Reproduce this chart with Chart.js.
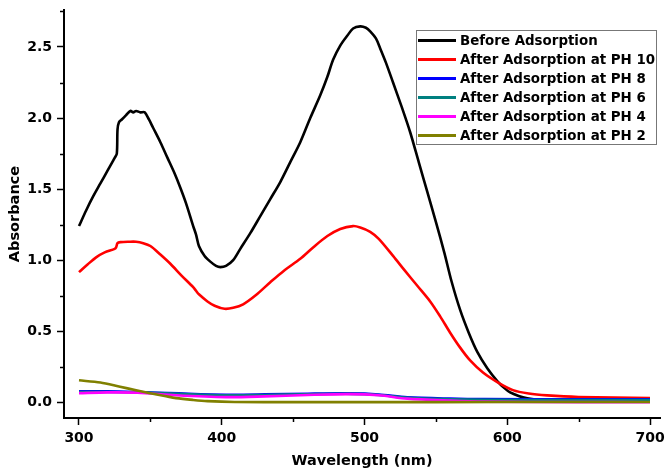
<!DOCTYPE html>
<html><head><meta charset="utf-8">
<script src="https://cdn.jsdelivr.net/npm/chart.js@4.4.1/dist/chart.umd.min.js"></script>
<style>html,body{margin:0;padding:0;background:#fff;}#wrap{width:665px;height:473px;}</style>
</head><body><div id="wrap"><canvas id="c" width="665" height="473"></canvas></div>
<script>
const seriesNames = ["Before Adsorption","After Adsorption at PH 10","After Adsorption at PH 8","After Adsorption at PH 6","After Adsorption at PH 4","After Adsorption at PH 2"];
const seriesColors = ["#000000","#ff0000","#0000ff","#008080","#ff00ff","#808000"];

const beforeX = [300,305,310,315,320,325,326.5,327,328,330,333,336,338,340,343,346,349,352,357,362,367,371,375,380,382,384,388,392,396,399,403,408,413,420,427,434,441,448,455,462,469,474,478,483,488,492,497,501,504,508,511,515,520,526,532,538,544,550,556,561,567,573,579,586,593,598,602,608,614,620,640,700];
const beforeY = [1.24,1.35,1.45,1.54,1.63,1.72,1.75,1.92,1.97,1.99,2.02,2.05,2.04,2.05,2.04,2.04,1.99,1.93,1.83,1.72,1.61,1.51,1.40,1.24,1.18,1.10,1.03,0.99,0.96,0.951,0.96,1.00,1.08,1.19,1.31,1.43,1.55,1.69,1.83,2.00,2.16,2.29,2.41,2.51,2.58,2.63,2.645,2.635,2.61,2.56,2.49,2.39,2.25,2.08,1.90,1.69,1.48,1.27,1.05,0.85,0.65,0.49,0.355,0.24,0.15,0.10,0.07,0.045,0.028,0.019,0.015,0.014];

const ph10X = [300,306,312,318,325,326,327,329,335,340,345,350,357,364,372,380,382,384,390,395,402,408,415,424,434,444,455,464,474,483,492,497,504,510,520,528,537,546,553,560,567,574,583,593,604,615,628,650,700];
const ph10Y = [0.916,0.97,1.02,1.055,1.08,1.09,1.12,1.127,1.13,1.13,1.12,1.10,1.04,0.975,0.89,0.81,0.785,0.76,0.71,0.68,0.658,0.665,0.69,0.755,0.845,0.93,1.01,1.09,1.17,1.22,1.24,1.23,1.20,1.15,1.03,0.93,0.82,0.71,0.605,0.49,0.385,0.295,0.21,0.143,0.086,0.062,0.049,0.038,0.03];

const ph8X = [300,320,341,370,403,430,460,490,510,530,560,584,650,700];
const ph8Y = [0.077,0.078,0.073,0.063,0.054,0.056,0.061,0.063,0.055,0.035,0.026,0.023,0.022,0.022];

const ph6X = [300,320,341,370,403,430,460,490,510,530,560,584,650,700];
const ph6Y = [0.072,0.073,0.070,0.060,0.050,0.052,0.057,0.060,0.052,0.032,0.022,0.018,0.016,0.016];

const ph4X = [300,320,341,368,403,430,460,490,510,530,560,584,650,700];
const ph4Y = [0.065,0.070,0.068,0.050,0.037,0.042,0.052,0.058,0.050,0.026,0.012,0.005,0.002,0.001];

const ph2X = [300,315,328,340,349,360,368,380,390,409,450,550,650,700];
const ph2Y = [0.155,0.140,0.112,0.085,0.066,0.045,0.030,0.017,0.009,0.003,0.002,0.002,0.003,0.003];

const xMajorTicks = [300,400,500,600,700];
const xMinorTicks = [350,450,550,650];
const yMajorTicks = [0,0.5,1.0,1.5,2.0,2.5];
const yMinorTicks = [0.25,0.75,1.25,1.75,2.25,2.75];

const allX = [beforeX, ph10X, ph8X, ph6X, ph4X, ph2X];
const allY = [beforeY, ph10Y, ph8Y, ph6Y, ph4Y, ph2Y];

const FONT = "'DejaVu Sans', 'Liberation Sans', sans-serif";

const datasets = seriesNames.map((name, i) => ({
  label: name,
  data: allX[i].map((x, j) => ({x: x, y: allY[i][j]})),
  borderColor: seriesColors[i],
  backgroundColor: seriesColors[i],
  borderWidth: 2.6,
  pointRadius: 0,
  tension: 0.3,
  fill: false,
  order: 6 - i
}));

const minorTicksPlugin = {
  id: 'minorTicks',
  afterDraw(chart) {
    const ctx = chart.ctx;
    const xs = chart.scales.x, ys = chart.scales.y;
    ctx.save();
    ctx.strokeStyle = '#000';
    ctx.lineWidth = 1.5;
    xMinorTicks.forEach(v => {
      const px = Math.round(xs.getPixelForValue(v)) + 0.5;
      ctx.beginPath(); ctx.moveTo(px, ys.bottom); ctx.lineTo(px, ys.bottom + 4); ctx.stroke();
    });
    yMinorTicks.forEach(v => {
      const py = Math.round(ys.getPixelForValue(v)) + 0.5;
      ctx.beginPath(); ctx.moveTo(xs.left, py); ctx.lineTo(xs.left - 4, py); ctx.stroke();
    });
    ctx.restore();
  }
};

const legendPlugin = {
  id: 'boxLegend',
  afterDraw(chart) {
    const ctx = chart.ctx;
    ctx.save();
    const bx = 416.5, by = 30.5, bw = 240, bh = 114;
    ctx.fillStyle = '#fff';
    ctx.fillRect(bx, by, bw, bh);
    ctx.strokeStyle = '#777';
    ctx.lineWidth = 1;
    ctx.strokeRect(bx, by, bw, bh);
    ctx.font = "bold 13.4px " + FONT;
    ctx.textBaseline = 'middle';
    ctx.textAlign = 'left';
    seriesNames.forEach((name, i) => {
      const y = 40.5 + i * 19;
      ctx.strokeStyle = seriesColors[i];
      ctx.lineWidth = 3;
      ctx.beginPath(); ctx.moveTo(418, y); ctx.lineTo(456, y); ctx.stroke();
      ctx.fillStyle = '#000';
      ctx.fillText(name, 460, y + 1);
    });
    ctx.restore();
  }
};

new Chart(document.getElementById('c'), {
  type: 'line',
  data: { datasets: datasets },
  options: {
    responsive: false,
    animation: false,
    devicePixelRatio: 1,
    layout: { padding: { left: 0, top: 10, right: 5, bottom: 0 } },
    plugins: { legend: { display: false }, tooltip: { enabled: false } },
    scales: {
      x: {
        type: 'linear',
        min: 289.5, max: 707,
        afterBuildTicks(scale) { scale.ticks = xMajorTicks.map(v => ({value: v})); },
        afterFit(scale) { scale.height = 55; scale.paddingLeft = 0; scale.paddingRight = 0; },
        ticks: { color: '#000', font: { family: FONT, size: 14, weight: 'bold' }, padding: 5, maxRotation: 0, autoSkip: false, callback: v => String(v) },
        grid: { drawOnChartArea: false, drawTicks: true, tickLength: 7, tickWidth: 1.5, tickColor: '#000' },
        border: { color: '#000', width: 2 },
        title: { display: true, text: 'Wavelength (nm)', color: '#000', font: { family: FONT, size: 14.5, weight: 'bold' }, padding: { top: 0, bottom: 3 } }
      },
      y: {
        type: 'linear',
        min: -0.11, max: 2.76,
        afterBuildTicks(scale) { scale.ticks = yMajorTicks.map(v => ({value: v})); },
        afterFit(scale) { scale.width = 64; scale.paddingTop = 0; scale.paddingBottom = 0; },
        ticks: { color: '#000', font: { family: FONT, size: 14, weight: 'bold' }, padding: 5, autoSkip: false, callback: v => Number(v).toFixed(1) },
        grid: { drawOnChartArea: false, drawTicks: true, tickLength: 7, tickWidth: 1.5, tickColor: '#000' },
        border: { color: '#000', width: 2 },
        title: { display: true, text: 'Absorbance', color: '#000', font: { family: FONT, size: 14.5, weight: 'bold' }, padding: { top: 7, bottom: 0 } }
      }
    }
  },
  plugins: [minorTicksPlugin, legendPlugin]
});
</script>
</body></html>
